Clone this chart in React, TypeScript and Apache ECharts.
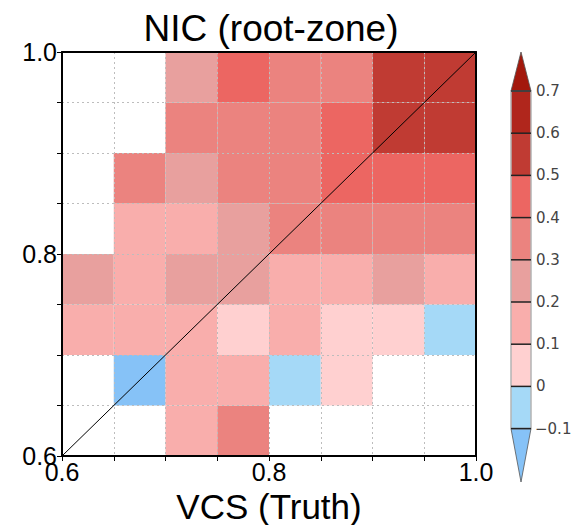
import React, { useEffect, useRef } from "react";
import * as echarts from "echarts";

// Bin lower edges (both axes) and bin width
const binStarts = [0.6, 0.65, 0.7, 0.75, 0.8, 0.85, 0.9, 0.95];
const binWidth = 0.05;

// NIC value per cell, one row per y-bin (from y = 0.60 up to y = 0.95); null = no data
const row060 = [null, null, 0.15, 0.35, null, null, null, null];
const row065 = [null, -0.15, 0.14, 0.16, -0.05, 0.05, null, null];
const row070 = [0.15, 0.15, 0.14, 0.05, 0.16, 0.05, 0.04, -0.05];
const row075 = [0.25, 0.15, 0.24, 0.25, 0.15, 0.14, 0.26, 0.15];
const row080 = [null, 0.15, 0.14, 0.25, 0.35, 0.34, 0.36, 0.35];
const row085 = [null, 0.35, 0.25, 0.34, 0.35, 0.45, 0.44, 0.46];
const row090 = [null, null, 0.35, 0.34, 0.36, 0.45, 0.56, 0.55];
const row095 = [null, null, 0.25, 0.45, 0.35, 0.36, 0.55, 0.57];
const rows = [row060, row065, row070, row075, row080, row085, row090, row095];

// Colour scale: thresholds and the colours between them (lowest extension first)
const thresholds = [-0.1, 0, 0.1, 0.2, 0.3, 0.4, 0.5, 0.6, 0.7];
const thresholdLabels = ["\u22120.1", "0", "0.1", "0.2", "0.3", "0.4", "0.5", "0.6", "0.7"];
const scaleColors = [
  "#86c2f7", // < -0.1
  "#a5d9f7",
  "#ffd0d0",
  "#f9aeac",
  "#e8a09e",
  "#eb837f",
  "#ec6662",
  "#c03b33",
  "#b0261c",
  "#a3180c", // > 0.7
];

const axisTicks = [0.6, 0.8, 1.0];

const title = "NIC (root-zone)";
const xName = "VCS (Truth)";

export default function App() {
  const ref = useRef<HTMLDivElement>(null);

  useEffect(() => {
    if (!ref.current) return;
    const chart = echarts.init(ref.current, null, { renderer: "svg" });

    const cells: number[][] = [];
    rows.forEach((row, yi) => {
      row.forEach((v, xi) => {
        if (v !== null) cells.push([binStarts[xi], binStarts[yi], v as number]);
      });
    });

    const pieces: any[] = [];
    pieces.push({ lt: thresholds[0], color: scaleColors[0] });
    for (let i = 0; i < thresholds.length - 1; i++) {
      pieces.push({ gte: thresholds[i], lt: thresholds[i + 1], color: scaleColors[i + 1] });
    }
    pieces.push({ gte: thresholds[thresholds.length - 1], color: scaleColors[scaleColors.length - 1] });

    // Colour bar drawn beside the plot
    const barX = 511;
    const barW = 20;
    const barTop = 91;
    const segH = 42.2;
    const nSeg = thresholds.length - 1;
    const barBottom = barTop + nSeg * segH;
    const bar: any[] = [];
    for (let i = 0; i < nSeg; i++) {
      bar.push({
        type: "rect",
        shape: { x: barX, y: barBottom - (i + 1) * segH, width: barW, height: segH },
        style: { fill: scaleColors[i + 1] },
      });
    }
    bar.push({
      type: "polygon",
      shape: { points: [[barX, barTop], [barX + barW, barTop], [barX + barW / 2, 52]] },
      style: { fill: scaleColors[scaleColors.length - 1], stroke: "#555", lineWidth: 0.8 },
    });
    bar.push({
      type: "polygon",
      shape: { points: [[barX, barBottom], [barX + barW, barBottom], [barX + barW / 2, 482]] },
      style: { fill: scaleColors[0], stroke: "#555", lineWidth: 0.8 },
    });
    bar.push({
      type: "rect",
      shape: { x: barX, y: barTop, width: barW, height: barBottom - barTop },
      style: { fill: "none", stroke: "#b4b4b4", lineWidth: 1.5 },
    });
    thresholds.forEach((t, i) => {
      const y = barBottom - i * segH;
      bar.push({
        type: "line",
        shape: { x1: barX, y1: y, x2: barX + barW, y2: y },
        style: { stroke: "#222", lineWidth: 1.5 },
      });
      bar.push({
        type: "text",
        x: thresholdLabels[i].startsWith("\u2212") ? barX + barW + 4 : barX + barW + 5,
        y,
        style: {
          text: thresholdLabels[i],
          fill: "#444",
          font: "15px 'DejaVu Sans'",
          verticalAlign: "middle",
          align: "left",
        },
      });
    });

    const labelFmt = (v: number) => {
      const hit = axisTicks.find((t) => Math.abs(t - v) < 1e-6);
      return hit !== undefined ? hit.toFixed(1) : "";
    };

    const baseAxis = {
      type: "value",
      min: 0.6,
      max: 1.0,
      interval: 0.05,
      z: 5,
      axisLine: { show: true, onZero: false, lineStyle: { color: "#000", width: 2 } },
      axisTick: { show: true, inside: false, length: 5, lineStyle: { color: "#000", width: 1 } },
      splitLine: { show: true, lineStyle: { color: "#bdbdbd", width: 1, type: [2, 3] } },
      axisLabel: {
        show: true,
        formatter: labelFmt,
        color: "#000",
        fontSize: 25,
        fontFamily: "Liberation Sans",
        showMinLabel: true,
        showMaxLabel: true,
      },
    };
    const frameAxis = {
      type: "value",
      min: 0.6,
      max: 1.0,
      z: 5,
      axisLine: { show: true, onZero: false, lineStyle: { color: "#000", width: 2 } },
      axisTick: { show: false },
      axisLabel: { show: false },
      splitLine: { show: false },
    };

    chart.setOption({
      animation: false,
      backgroundColor: "#fff",
      title: {
        text: title,
        left: 266,
        top: 5,
        textAlign: "center",
        textStyle: { fontSize: 37, fontWeight: "normal", fontFamily: "Liberation Sans", color: "#000" },
      },
      grid: { left: 62, right: 107, top: 52, bottom: 69, containLabel: false, outerBoundsMode: "none" },
      xAxis: [
        {
          ...baseAxis,
          position: "bottom",
          name: xName,
          nameLocation: "middle",
          nameGap: 29,
          nameTextStyle: { fontSize: 35, lineHeight: 32, fontFamily: "Liberation Sans", color: "#000" },
          axisLabel: { ...baseAxis.axisLabel, margin: 3 },
        },
        { ...frameAxis, position: "top" },
      ],
      yAxis: [
        { ...baseAxis, position: "left", axisLabel: { ...baseAxis.axisLabel, margin: 5 } },
        { ...frameAxis, position: "right" },
      ],
      visualMap: {
        type: "piecewise",
        show: false,
        dimension: 2,
        seriesIndex: 0,
        pieces,
      },
      graphic: bar,
      series: [
        {
          type: "custom",
          z: 2,
          data: cells,
          encode: { x: 0, y: 1 },
          renderItem: (params: any, api: any) => {
            const x0 = api.value(0);
            const y0 = api.value(1);
            const p0 = api.coord([x0, y0 + binWidth]);
            const p1 = api.coord([x0 + binWidth, y0]);
            return {
              type: "rect",
              shape: { x: p0[0], y: p0[1], width: p1[0] - p0[0], height: p1[1] - p0[1] },
              style: { fill: api.visual("color"), stroke: null },
            };
          },
        },
        {
          type: "line",
          z: 6,
          symbol: "none",
          data: [
            [0.6, 0.6],
            [1.0, 1.0],
          ],
          lineStyle: { color: "#000", width: 1 },
        },
      ],
    });

    return () => chart.dispose();
  }, []);

  return <div ref={ref} style={{ width: 583, height: 525, marginLeft: -8, marginTop: -8 }} />;
}
